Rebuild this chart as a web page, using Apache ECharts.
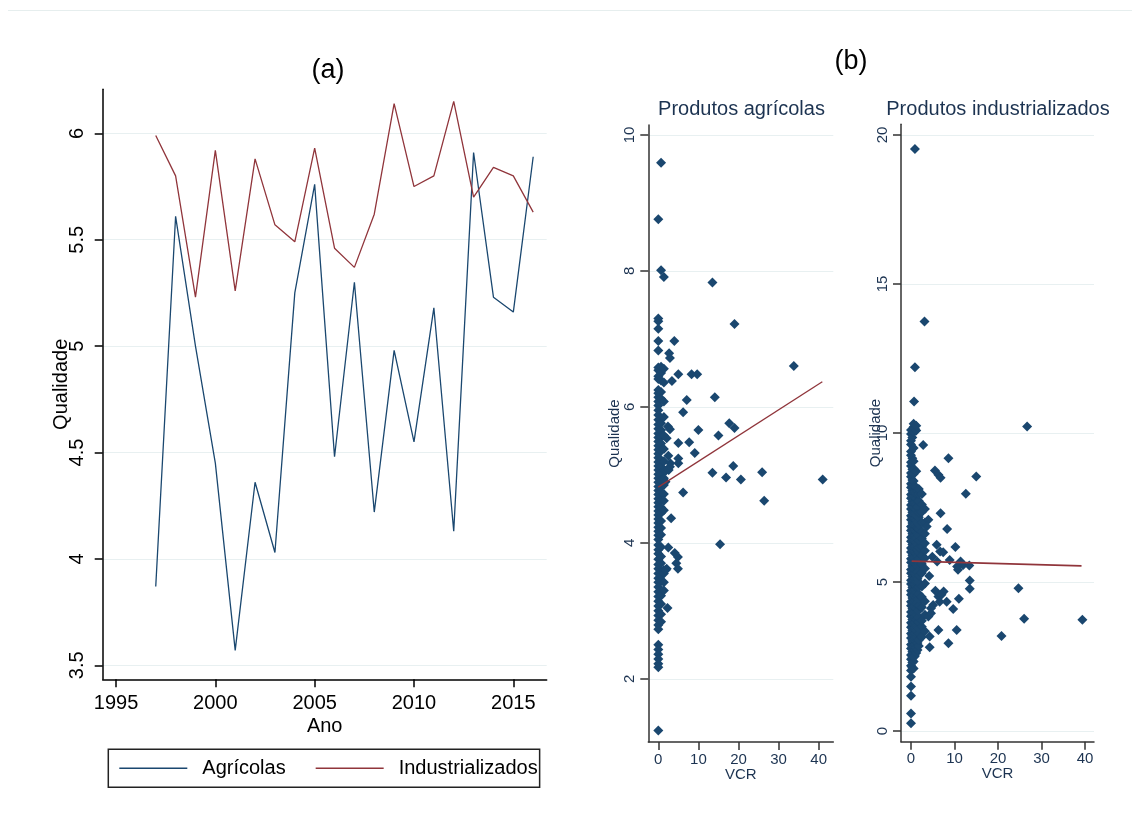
<!DOCTYPE html>
<html><head><meta charset="utf-8">
<script src="https://cdn.jsdelivr.net/npm/echarts@6/dist/echarts.min.js"></script>
<style>html,body{margin:0;padding:0;background:#fff}#c{width:1132px;height:829px}</style>
</head><body><div id="c"></div>
<script>
// ---------- Panel (a): time series ----------
const years = [1997,1998,1999,2000,2001,2002,2003,2004,2005,2006,2007,2008,2009,2010,2011,2012,2013,2014,2015,2016];
const agricolas = [3.87,5.61,5.00,4.45,3.57,4.36,4.03,5.25,5.76,4.48,5.30,4.22,4.98,4.55,5.18,4.13,5.91,5.23,5.16,5.89];
const industrializados = [5.99,5.80,5.23,5.92,5.26,5.88,5.57,5.49,5.93,5.46,5.37,5.62,6.14,5.75,5.80,6.15,5.70,5.84,5.80,5.63];
const yearTicks = [1995,2000,2005,2010,2015];
const qualTicksA = [3.5,4,4.5,5,5.5,6];

// ---------- Panel (b) left: Produtos agrícolas (VCR, Qualidade) ----------
const agrAtZero = [8.76,7.30,7.26,7.15,6.97,6.83,6.58,6.54,6.45,6.41,6.25,6.20,6.14,6.08,6.02,
  5.95,5.88,5.81,5.74,5.68,5.61,5.55,5.49,5.43,5.37,5.31,5.25,5.19,5.13,5.07,5.01,4.95,4.89,4.83,4.77,
  4.71,4.65,4.59,4.53,4.47,4.41,4.35,4.29,4.23,4.17,4.11,4.05,3.97,3.90,3.84,3.76,3.68,3.62,3.55,3.48,
  3.42,3.35,3.28,3.21,3.14,3.07,3.00,2.93,2.86,2.79,2.73,2.50,2.43,2.36,2.29,2.22,2.17,1.24];
const agrAtSmall = [9.59,8.01,6.59,6.50,6.39,6.22,6.12,5.82,5.76,5.66,5.56,5.46,5.36,5.22,5.12,5.02,
  4.92,4.82,4.72,4.62,4.52,4.44,4.32,4.22,4.12,3.94,3.80,3.70,3.52,3.44,3.22,3.10,2.95,2.84];
const agrAtOne = [7.91,6.56,6.36,6.08,5.85,5.58,5.38,5.20,5.06,4.95,4.85,4.72,4.62,4.48,3.60,3.55,3.42,3.30];
const agrOther = [[13.5,7.83],[19.0,7.22],[4.0,6.97],[2.7,6.79],[2.9,6.72],[33.8,6.60],[5.0,6.48],
  [8.3,6.48],[9.7,6.48],[3.4,6.38],[14.1,6.14],[7.1,6.10],[6.2,5.92],[17.7,5.76],[19.0,5.69],[2.4,5.71],
  [2.9,5.67],[10.0,5.66],[15.0,5.58],[2.1,5.54],[5.0,5.47],[7.7,5.48],[9.1,5.32],[2.5,5.28],[5.0,5.24],
  [5.0,5.17],[3.0,5.17],[2.9,5.12],[13.5,5.03],[18.7,5.13],[16.9,4.96],[20.6,4.93],[25.9,5.04],[41.0,4.93],
  [26.4,4.62],[6.2,4.74],[3.2,4.36],[15.4,3.98],[2.5,3.93],[4.1,3.85],[4.9,3.79],[4.5,3.70],[4.9,3.62],
  [2.1,3.62],[1.9,3.60],[2.3,3.04],[1.9,5.06],[2.6,5.07],[1.8,4.90]];
const agrFit = [[0,4.82],[40.9,6.37]];

// ---------- Panel (b) right: Produtos industrializados ----------
const indAtZero = [0.26,0.59,1.18,1.49,1.82,2.03,2.19,2.41,2.55,2.77,2.90,3.12,3.27,3.48,3.63,3.85,3.99,
  4.20,4.34,4.57,4.71,4.93,5.06,5.29,5.42,5.65,5.78,6.01,6.14,6.37,6.50,6.73,6.86,7.09,7.22,7.45,7.58,
  7.81,7.94,8.17,8.30,8.53,8.66,8.89,9.02,9.25,9.38,9.61,9.74,9.97,10.10];
const indAtQuarter = [2.12,2.30,2.48,2.66,2.84,3.02,3.20,3.38,3.56,3.74,3.92,4.10,4.28,4.46,4.64,4.82,
  5.00,5.18,5.36,5.54,5.72,5.90,6.08,6.26,6.44,6.62,6.80,6.98,7.16,7.34,7.52,7.70,7.88,8.06,8.24,8.42,
  8.60,8.78,9.15,9.85];
const indAtHalf = [2.10,2.33,2.47,2.70,2.84,3.07,3.21,3.44,3.58,3.81,3.95,4.18,4.32,4.55,4.69,4.92,5.06,
  5.29,5.43,5.66,5.80,6.03,6.17,6.40,6.54,6.77,6.91,7.14,7.28,7.51,7.65,7.88,8.02,8.25,8.39,8.62,8.80,
  9.05,9.50,10.02,10.20,10.31];
const indAtThreeQuarter = [2.52,2.71,2.89,3.10,3.28,3.46,3.65,3.83,4.01,4.19,4.38,4.56,4.74,4.92,5.11,
  5.29,5.47,5.65,5.84,6.02,6.20,6.39,6.57,6.75,6.93,7.12,7.30,7.48,7.66,7.85,8.03,8.21,10.14];
const indAtOne = [2.62,2.80,3.00,3.15,3.36,3.52,3.73,3.89,4.10,4.26,4.47,4.63,4.84,5.00,5.21,5.37,5.58,
  5.74,5.95,6.11,6.32,6.48,6.69,6.85,7.06,7.22,7.43,7.59,7.80,7.96,8.17,8.72,10.08,10.24];
const indAtOneHalf = [2.72,2.95,3.24,3.47,3.78,4.02,4.31,4.54,4.79,5.11,5.33,5.52,5.86,6.07,6.26,6.60,
  6.81,7.00,7.33,7.52,7.71,8.05];
const indAtTwo = [2.85,3.05,3.27,3.43,3.66,3.82,4.05,4.21,4.44,4.60,4.83,4.99,5.22,5.38,5.61,5.77,6.00,
  6.16,6.39,6.55,6.78,6.94,7.17,7.33,7.56,7.72,7.95,8.12];
const indAtTwoHalf = [3.15,3.50,3.70,4.15,4.50,4.85,5.30,5.60,5.90,6.20,6.45,6.70,7.00,7.35,7.60,7.95];
const indAtThree = [3.35,3.90,4.35,4.95,5.45,5.80,6.05,6.30,6.62,7.00,7.45];
const indOther = [[0.9,19.53],[3.1,13.74],[0.9,12.21],[0.7,11.06],[26.7,10.22],[2.8,9.60],[8.6,9.15],
  [5.5,8.74],[6.3,8.60],[6.8,8.50],[15.0,8.54],[12.6,7.96],[6.8,7.31],[4.0,7.09],[3.6,6.86],[8.3,6.78],
  [5.9,6.25],[10.2,6.17],[6.7,6.02],[7.4,6.00],[4.9,5.85],[8.9,5.74],[6.0,5.69],[11.4,5.69],[12.0,5.57],
  [10.6,5.52],[13.4,5.55],[10.8,5.41],[4.2,5.20],[13.5,5.05],[13.5,4.77],[24.7,4.79],[5.6,4.71],[7.5,4.68],
  [6.3,4.51],[7.0,4.57],[8.2,4.34],[6.6,4.34],[5.1,4.23],[11.0,4.44],[9.7,4.09],[4.6,4.12],[4.0,3.84],
  [4.6,3.95],[26.0,3.77],[39.4,3.73],[6.3,3.39],[10.5,3.39],[4.3,3.17],[20.8,3.19],[8.6,2.94],[4.3,2.81]];
const indFit = [[0.15,5.70],[39.2,5.54]];

const vcrTicks = [0,10,20,30,40];
const qualTicksAgr = [2,4,6,8,10];
const qualTicksInd = [0,5,10,15,20];

// ---------- build ----------
const col = (arr, x) => arr.map(y => [x, y]);
const agrPoints = [].concat(col(agrAtZero,0), col(agrAtSmall,0.7), col(agrAtOne,1.4), agrOther);
const indPoints = [].concat(col(indAtZero,0), col(indAtQuarter,0.3), col(indAtHalf,0.6),
  col(indAtThreeQuarter,0.9), col(indAtOne,1.2), col(indAtOneHalf,1.5),
  col(indAtTwo,1.8), col(indAtTwoHalf,2.5), col(indAtThree,3.2), indOther);

const FONT = 'Liberation Sans, Arial, sans-serif';
const NAVY = '#1a476f', MAROON = '#90353b', GRID = '#e8f0f1', BTXT = '#1c3351';
const plain = v => String(v);

function axisX(grid, min, max, ticks, o) {
  return {
    gridIndex: grid, type: 'value', min: min, max: max,
    name: o.name, nameLocation: 'middle', nameGap: o.nameGap, nameMoveOverlap: false,
    nameTextStyle: {fontSize: o.fs, color: o.color, fontFamily: FONT},
    axisLine: {show: true, onZero: false, lineStyle: {color: o.lc, width: 1.5}},
    axisTick: {show: true, length: 8, customValues: ticks, lineStyle: {color: o.lc, width: 1.5}},
    axisLabel: {customValues: ticks, formatter: plain, fontSize: o.fs, color: o.color, fontFamily: FONT, margin: o.margin},
    splitLine: {show: false}
  };
}
function axisY(grid, min, max, ticks, o) {
  return {
    gridIndex: grid, type: 'value', min: min, max: max,
    name: o.name, nameLocation: 'middle', nameGap: o.nameGap, nameMoveOverlap: false,
    nameTextStyle: {fontSize: o.nfs, color: o.color, fontFamily: FONT},
    axisLine: {show: true, onZero: false, lineStyle: {color: o.lc, width: 1.5}},
    axisTick: {show: true, length: 8, customValues: ticks, lineStyle: {color: o.lc, width: 1.5}},
    axisLabel: {customValues: ticks, formatter: plain, rotate: 90, fontSize: o.fs, color: o.color, fontFamily: FONT, margin: o.margin},
    splitLine: {show: true, lineStyle: {color: GRID, width: 1}}
  };
}

const chart = echarts.init(document.getElementById('c'), null, {renderer: 'canvas'});
chart.setOption({
  animation: false,
  backgroundColor: '#fff',
  textStyle: {fontFamily: FONT},
  grid: [
    {left: 102.7, top: 89.3, width: 444, height: 590, outerBoundsMode: 'none', containLabel: false},
    {left: 648.3, top: 125, width: 185, height: 617, outerBoundsMode: 'none', containLabel: false},
    {left: 901, top: 124.3, width: 193, height: 617.4, outerBoundsMode: 'none', containLabel: false}
  ],
  xAxis: [
    axisX(0, 1994.33, 2016.68, yearTicks, {name: 'Ano', nameGap: 37, fs: 20, color: '#000', lc: '#000', margin: 14}),
    axisX(1, -2.49, 43.64, vcrTicks, {name: 'VCR', nameGap: 25, fs: 15, color: BTXT, lc: '#333', margin: 10}),
    axisX(2, -2.3, 42.07, vcrTicks, {name: 'VCR', nameGap: 25, fs: 15, color: BTXT, lc: '#333', margin: 10})
  ],
  yAxis: [
    axisY(0, 3.434, 6.207, qualTicksA, {name: 'Qualidade', nameGap: 31, fs: 20, nfs: 20, color: '#000', lc: '#000', margin: 15}),
    axisY(1, 1.07, 10.147, qualTicksAgr, {name: 'Qualidade', nameGap: 26, fs: 15, nfs: 15, color: BTXT, lc: '#333', margin: 11}),
    axisY(2, -0.36, 20.36, qualTicksInd, {name: 'Qualidade', nameGap: 18, fs: 15, nfs: 15, color: BTXT, lc: '#333', margin: 11})
  ],
  legend: {
    data: ['Agrícolas', 'Industrializados'],
    left: 108.3, top: 749.3, orient: 'horizontal',
    padding: [9, 2, 9, 11], itemGap: 30, itemWidth: 68, itemHeight: 1.4, icon: 'rect',
    borderColor: '#222', borderWidth: 1.5, borderRadius: 0,
    textStyle: {fontSize: 20, color: '#000', fontFamily: FONT, padding: [0, 0, 0, 10], lineHeight: 20},
    selectedMode: false
  },
  series: [
    {name: 'Agrícolas', type: 'line', xAxisIndex: 0, yAxisIndex: 0, symbol: 'none',
     lineStyle: {color: NAVY, width: 1.3}, itemStyle: {color: NAVY},
     data: years.map((y, i) => [y, agricolas[i]])},
    {name: 'Industrializados', type: 'line', xAxisIndex: 0, yAxisIndex: 0, symbol: 'none',
     lineStyle: {color: MAROON, width: 1.3}, itemStyle: {color: MAROON},
     data: years.map((y, i) => [y, industrializados[i]])},
    {type: 'scatter', xAxisIndex: 1, yAxisIndex: 1, symbol: 'diamond', symbolSize: 10, silent: true,
     itemStyle: {color: NAVY, opacity: 1}, data: agrPoints},
    {type: 'line', xAxisIndex: 1, yAxisIndex: 1, symbol: 'none', silent: true, z: 5,
     lineStyle: {color: MAROON, width: 1.3}, data: agrFit},
    {type: 'scatter', xAxisIndex: 2, yAxisIndex: 2, symbol: 'diamond', symbolSize: 10, silent: true,
     itemStyle: {color: NAVY, opacity: 1}, data: indPoints},
    {type: 'line', xAxisIndex: 2, yAxisIndex: 2, symbol: 'none', silent: true, z: 5,
     lineStyle: {color: MAROON, width: 1.6}, data: indFit}
  ],
  graphic: [
    {type: 'line', shape: {x1: 8, y1: 10.5, x2: 1132, y2: 10.5}, style: {stroke: '#e6eeee', lineWidth: 1}, silent: true},
    {type: 'text', x: 328, y: 71, style: {text: '(a)', fontSize: 27, fontFamily: FONT, fill: '#000', align: 'center', verticalAlign: 'middle'}},
    {type: 'text', x: 851, y: 62, style: {text: '(b)', fontSize: 27, fontFamily: FONT, fill: '#000', align: 'center', verticalAlign: 'middle'}},
    {type: 'text', x: 741.5, y: 109, style: {text: 'Produtos agrícolas', fontSize: 20, fontFamily: FONT, fill: BTXT, align: 'center', verticalAlign: 'middle'}},
    {type: 'text', x: 998, y: 109, style: {text: 'Produtos industrializados', fontSize: 20, fontFamily: FONT, fill: BTXT, align: 'center', verticalAlign: 'middle'}}
  ]
});
</script>
</body></html>
